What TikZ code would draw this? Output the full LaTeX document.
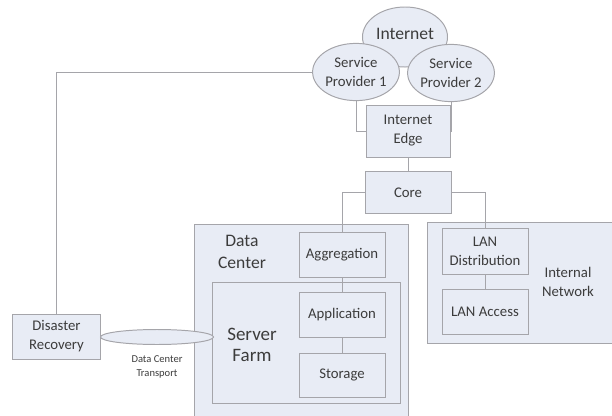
\documentclass[tikz,border=0pt]{standalone}
\usepackage{fontspec}
\setmainfont{Carlito}
\usetikzlibrary{shapes.geometric}
\definecolor{boxfill}{RGB}{232,236,245}
\definecolor{boxline}{RGB}{165,165,170}
\definecolor{txt}{RGB}{60,60,60}
\tikzset{
  box/.style={draw=boxline, fill=boxfill, line width=0.7pt, minimum width=2.15cm, minimum height=1.125cm, align=center, text=txt, inner sep=1pt, font=\fontsize{10.5}{13.5}\selectfont},
  cloud/.style={ellipse, draw=boxline, fill=boxfill, line width=0.7pt, align=center, text=txt, inner sep=0pt, font=\fontsize{10.5}{13.5}\selectfont},
  region/.style={draw=boxline, fill=boxfill, line width=0.7pt},
  title/.style={align=center, text=txt, inner sep=0pt},
  wire/.style={draw=boxline, line width=0.7pt}
}
\begin{document}
\begin{tikzpicture}[x=0.025cm, y=-0.025cm]
	\useasboundingbox (0,0) rectangle (612,415);
	% internet side
	\node (1) [cloud, minimum width=2.125cm, minimum height=1.5cm, font=\fontsize{12.5}{14}\selectfont] at (405,37) {};
	\node (20) [title, font=\fontsize{12.5}{14}\selectfont] at (405,34) {Internet};
	\node (2) [cloud, minimum width=2.15cm, minimum height=1.43cm] at (356,72) {Service\\Provider 1};
	\node (3) [cloud, minimum width=1.9cm, minimum height=1.43cm] at (451,73) {Service\\Provider 2};
	\node (4) [box, minimum width=2.1cm, minimum height=1.3cm] at (408,131) {Internet\\Edge};
	\node (5) [box, minimum height=1.03cm] at (408,192.5) {Core};
	
	% data center
	\node (6) [region, minimum width=5.325cm, minimum height=5cm] at (301.5,325) {};
	\node (16) [title, font=\fontsize{12.5}{15.5}\selectfont] at (242,252) {Data\\Center};
	\node (7) [box] at (342,254.5) {Aggregation};
	\node (8) [region, minimum width=4.675cm, minimum height=3cm] at (306.5,343) {};
	\node (17) [title, font=\fontsize{13.5}{15.5}\selectfont] at (252,345) {Server\\Farm};
	\node (9) [box] at (342,314.5) {Application};
	\node (10) [box, minimum height=1.1cm] at (342,375) {Storage};
	
	% internal network
	\node (11) [region, minimum width=4.675cm, minimum height=3cm] at (521.5,283) {};
	\node (18) [title, font=\fontsize{10.5}{13.5}\selectfont] at (568,282) {Internal\\Network};
	\node (12) [box, minimum height=1.15cm] at (485,251) {LAN\\Distribution};
	\node (13) [box] at (485,311.5) {LAN Access};
	
	% disaster recovery
	\node (14) [box, minimum width=2.175cm] at (56.5,336.5) {Disaster\\Recovery};
	\node (15) [cloud, minimum width=2.825cm, minimum height=0.375cm] at (157,337) {};
	\node (19) [title, font=\fontsize{7.5}{10.5}\selectfont] at (157,367) {Data Center\\Transport};
	
	\draw [wire] (2.south) |- (4.west);
	\draw [wire] (3.south) |- (4.east);
	\draw [wire] (4) -- (5);
	\draw [wire] (5.west) -| (7.north);
	\draw [wire] (5.east) -| (12.north);
	\draw [wire] (7) -- (9);
	\draw [wire] (9) -- (10);
	\draw [wire] (12) -- (13);
	\draw [wire] (14.north) |- (2.west);
\end{tikzpicture}
\end{document}
